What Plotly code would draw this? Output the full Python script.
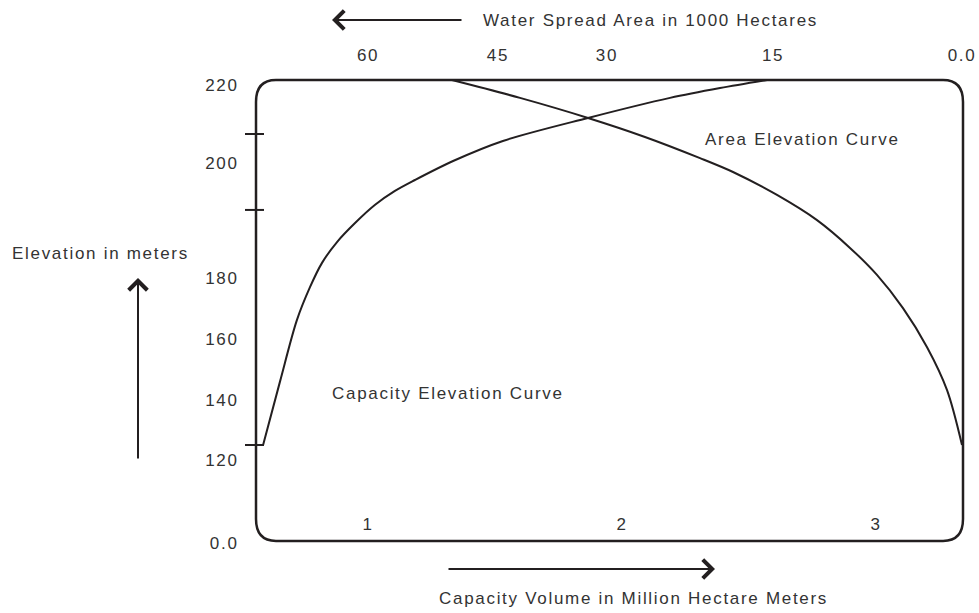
import plotly.graph_objects as go

# ---------------- data ----------------
# Capacity-elevation curve: capacity (million hectare metres) vs elevation (m)
cap_volume = [0.587, 0.654, 0.720, 0.772, 0.819, 0.878, 0.949, 1.028, 1.106,
              1.185, 1.335, 1.531, 1.866, 2.189, 2.386, 2.571]
cap_elev = [120.0, 137.5, 154.2, 163.3, 169.9, 175.6, 180.8, 185.8, 189.6,
            192.6, 197.8, 203.3, 209.6, 215.1, 217.8, 220.0]

# Area-elevation curve: water spread area (1000 ha) vs elevation (m)
area_spread = [49.18, 42.62, 36.06, 30.57, 25.26, 22.08, 17.84, 13.98, 10.80,
               8.20, 5.69, 3.37, 1.45, 0.0]
area_elev = [220.0, 215.1, 209.6, 204.4, 198.6, 194.8, 188.5, 181.6, 174.0,
             166.6, 157.5, 146.8, 135.1, 120.0]

# tick labels (as printed on the original drawing)
elev_tick_text = ["0.0", "120", "140", "160", "180", "200", "220"]
elev_tick_pos = [93.15, 115.89, 132.33, 149.04, 165.75, 197.26, 218.63]
elev_tick_marks = [120.0, 184.4, 205.2]
area_tick_text = ["60", "45", "30", "15", "0.0"]
area_tick_pos = [57.27, 44.74, 34.23, 18.22, 0.0]
cap_tick_text = ["1", "2", "3"]
cap_tick_pos = [1, 2, 3]

# ---------------- styling ----------------
W, H = 979, 613
INK = "#231f20"
TXT = "#333333"
FONT = "Liberation Sans, Arial, sans-serif"
FS = 17


def sp(t):
    return f'<span style="letter-spacing:1.7px">{t}</span>'


def px(x):
    return x / W


def py(y):
    return 1 - y / H


fig = go.Figure()

fig.add_trace(go.Scatter(
    x=cap_volume, y=cap_elev, mode="lines", xaxis="x", yaxis="y",
    line=dict(color=INK, width=2, shape="spline", smoothing=0.9),
    hoverinfo="skip", showlegend=False))

fig.add_trace(go.Scatter(
    x=area_spread, y=area_elev, mode="lines", xaxis="x2", yaxis="y",
    line=dict(color=INK, width=2, shape="spline", smoothing=0.9),
    hoverinfo="skip", showlegend=False))

# frame (rounded rectangle) in data coordinates
L, R, T, B = 0.5591, 3.3425, 220.0, 93.70
rx, ry = 0.0787, 6.0
path = (f"M {L+rx},{T} L {R-rx},{T} Q {R},{T} {R},{T-ry} "
        f"L {R},{B+ry} Q {R},{B} {R-rx},{B} L {L+rx},{B} "
        f"Q {L},{B} {L},{B+ry} L {L},{T-ry} Q {L},{T} {L+rx},{T} Z")
shapes = [dict(type="path", path=path, xref="x", yref="y",
               line=dict(color=INK, width=2.5), fillcolor="rgba(0,0,0,0)")]
for e in elev_tick_marks:
    shapes.append(dict(type="line", xref="paper", yref="y",
                       x0=px(245), x1=px(264), y0=e, y1=e,
                       line=dict(color=INK, width=2)))

arrow = dict(showarrow=True, arrowhead=4, arrowsize=1.8, arrowwidth=2,
             arrowcolor=INK, text="", xref="paper", yref="paper")
annotations = [
    dict(text=sp("Water Spread Area in 1000 Hectares"), x=px(650), y=py(20),
         xref="paper", yref="paper", showarrow=False, xanchor="center", yanchor="middle"),
    dict(arrow, x=px(332), y=py(20), ax=463 - 332, ay=0),
    dict(text=sp("Capacity Volume in Million Hectare Meters"), x=px(633), y=py(598),
         xref="paper", yref="paper", showarrow=False, xanchor="center", yanchor="middle"),
    dict(arrow, x=px(715), y=py(569), ax=447 - 715, ay=0),
    dict(text=sp("Elevation in meters"), x=px(100), y=py(253),
         xref="paper", yref="paper", showarrow=False, xanchor="center", yanchor="middle"),
    dict(arrow, x=px(138), y=py(278), ax=0, ay=460 - 278),
    dict(text=sp("Area Elevation Curve"), x=px(703), y=py(139),
         xref="paper", yref="paper", showarrow=False, xanchor="left", yanchor="middle"),
    dict(text=sp("Capacity Elevation Curve"), x=px(330), y=py(393),
         xref="paper", yref="paper", showarrow=False, xanchor="left", yanchor="middle"),
]

axis_common = dict(showgrid=False, zeroline=False, showline=False, fixedrange=True,
                   tickfont=dict(family=FONT, size=FS, color=TXT))

fig.update_layout(
    width=W, height=H,
    margin=dict(l=0, r=0, t=0, b=0),
    paper_bgcolor="white", plot_bgcolor="white",
    font=dict(family=FONT, size=FS, color=TXT),
    showlegend=False,
    xaxis=dict(axis_common, range=[-0.4488, 3.4055], domain=[0, 1],
               tickmode="array", tickvals=cap_tick_pos,
               ticktext=[sp(t) for t in cap_tick_text],
               anchor="free", position=py(512), ticks=""),
    xaxis2=dict(axis_common, range=[92.76, -1.639], overlaying="x", side="top",
                tickmode="array", tickvals=area_tick_pos,
                ticktext=[sp(t) for t in area_tick_text],
                anchor="free", position=py(64), ticks=""),
    yaxis=dict(axis_common, range=[73.97, 241.92], domain=[0, 1],
               tickmode="array", tickvals=elev_tick_pos,
               ticktext=[sp(t) for t in elev_tick_text],
               anchor="free", position=px(256), ticks="outside", ticklen=14,
               tickcolor="rgba(0,0,0,0)"),
    shapes=shapes,
    annotations=annotations,
)

fig.write_html("out.html", config={"displayModeBar": False},
               post_script="document.body.style.margin='0';")
